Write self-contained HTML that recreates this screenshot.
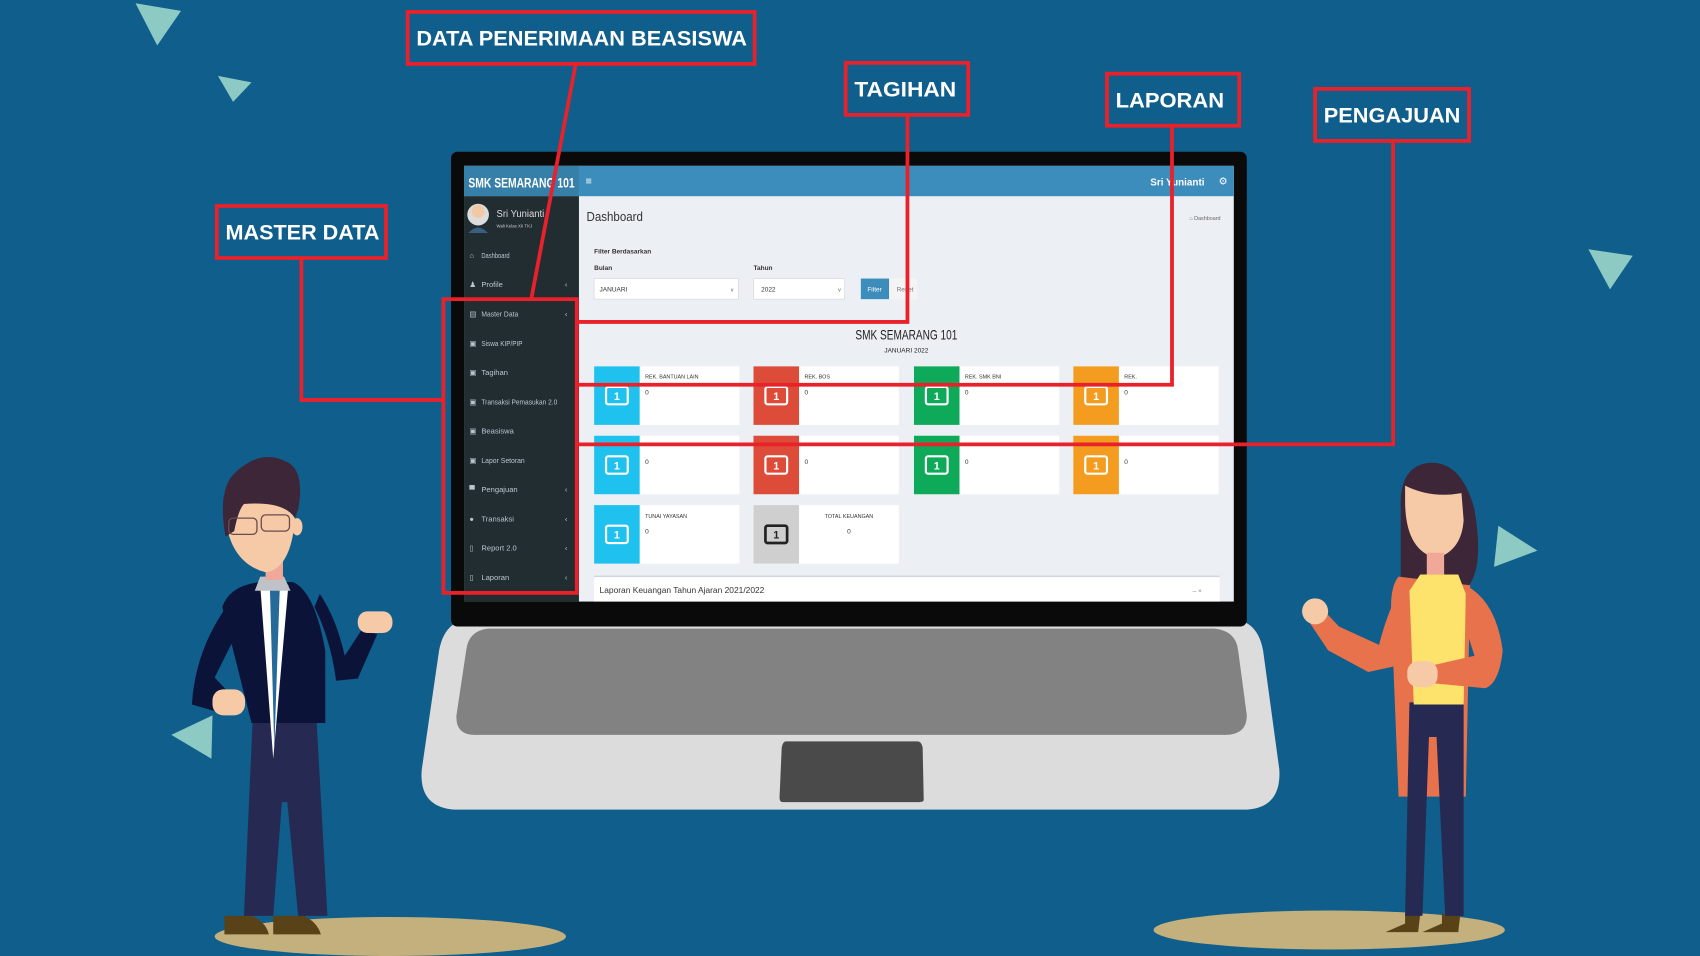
<!DOCTYPE html>
<html><head><meta charset="utf-8"><style>
html,body{margin:0;padding:0;background:#0f5e8b;}
svg{display:block;}
text{font-family:"Liberation Sans",sans-serif;}
</style></head><body>
<svg width="1700" height="956" viewBox="0 0 1568 882" preserveAspectRatio="none" xmlns="http://www.w3.org/2000/svg">
<rect width="1568" height="882" fill="#0f5e8b"/>
<g fill="#8ecac4">
<polygon points="125,3 167,10 145,42"/>
<polygon points="201,70 232,76 215,94"/>
<polygon points="1465,230 1506,236 1485,267"/>
<polygon points="1382,485 1418,508 1378,523"/>
<polygon points="158,678 196,660 195,700"/>
</g>
<ellipse cx="360" cy="864" rx="162" ry="18" fill="#c4b07c"/>
<ellipse cx="1226" cy="858" rx="162" ry="18" fill="#c4b07c"/>

<path d="M430,572 L1140,572 Q1160,574 1165,600 L1180,710 Q1182,745 1150,747 L420,747 Q386,745 389,710 L405,600 Q410,574 430,572 Z" fill="#dcdcdc"/>
<path d="M450,580 L1120,580 Q1140,582 1142,600 L1150,660 Q1150,678 1130,678 L438,678 Q420,678 421,660 L430,600 Q432,582 450,580 Z" fill="#828282"/>
<path d="M725,684 L846,684 Q850,684 851,690 L852,738 Q852,740 848,740 L722,740 Q719,740 719,736 L721,690 Q722,684 725,684 Z" fill="#4a4a4a"/>
<rect x="416" y="140" width="734" height="438" rx="6" fill="#0a0a0a"/>
<rect x="428" y="153" width="710" height="402" fill="#ecf0f5"/>
<rect x="428" y="153" width="710" height="28" fill="#3c8dbc"/>
<rect x="428" y="153" width="106" height="28" fill="#367fa9"/>
<text x="432" y="173" font-size="13" font-weight="bold" fill="#fff" textLength="98" lengthAdjust="spacingAndGlyphs">SMK SEMARANG 101</text>
<text x="540" y="170" font-size="10" fill="#fff">≡</text>
<text x="1061" y="171" font-size="9" font-weight="bold" fill="#fff" textLength="50" lengthAdjust="spacingAndGlyphs">Sri Yunianti</text>
<text x="1124" y="170" font-size="9" fill="#fff">⚙</text>
<rect x="428" y="181" width="106" height="374" fill="#222d32"/>
<circle cx="441" cy="198" r="10" fill="#dcdcdc"/>
<path d="M432,215 Q441,205 450,215 Z" fill="#3a5f85"/>
<circle cx="441" cy="195" r="6" fill="#f3c9a5"/>
<text x="458" y="200" font-size="9" fill="#ddd" textLength="44" lengthAdjust="spacingAndGlyphs">Sri Yunianti</text>
<text x="458" y="210" font-size="4" fill="#ccc">Wali Kelas XII TKJ</text>
<g font-size="7" fill="#b8c7ce">
<text x="433" y="238">⌂</text><text x="444" y="238" textLength="26" lengthAdjust="spacingAndGlyphs">Dashboard</text>
<text x="433" y="265">♟</text><text x="444" y="265">Profile</text><text x="521" y="265">‹</text>
<text x="433" y="292">▤</text><text x="444" y="292" textLength="34" lengthAdjust="spacingAndGlyphs">Master Data</text><text x="521" y="292">‹</text>
<text x="433" y="319">▣</text><text x="444" y="319" textLength="38" lengthAdjust="spacingAndGlyphs">Siswa KIP/PIP</text>
<text x="433" y="346">▣</text><text x="444" y="346">Tagihan</text>
<text x="433" y="373">▣</text><text x="444" y="373" textLength="70" lengthAdjust="spacingAndGlyphs">Transaksi Pemasukan 2.0</text>
<text x="433" y="400">▣</text><text x="444" y="400">Beasiswa</text>
<text x="433" y="427">▣</text><text x="444" y="427" textLength="40" lengthAdjust="spacingAndGlyphs">Lapor Setoran</text>
<text x="433" y="454">▀</text><text x="444" y="454">Pengajuan</text><text x="521" y="454">‹</text>
<text x="433" y="481">●</text><text x="444" y="481">Transaksi</text><text x="521" y="481">‹</text>
<text x="433" y="508">▯</text><text x="444" y="508">Report 2.0</text><text x="521" y="508">‹</text>
<text x="433" y="535">▯</text><text x="444" y="535">Laporan</text><text x="521" y="535">‹</text>
</g>
<text x="541" y="204" font-size="12" fill="#333" textLength="52" lengthAdjust="spacingAndGlyphs">Dashboard</text>
<text x="1097" y="203" font-size="5" fill="#666">⌂ Dashboard</text>
<text x="548" y="234" font-size="6" font-weight="bold" fill="#333">Filter Berdasarkan</text>
<text x="548" y="249" font-size="6" font-weight="bold" fill="#333">Bulan</text>
<text x="695" y="249" font-size="6" font-weight="bold" fill="#333">Tahun</text>
<rect x="548" y="257" width="133" height="19" fill="#fff" stroke="#d2d6de" stroke-width="0.6"/>
<text x="553" y="269" font-size="6" fill="#333">JANUARI</text><text x="674" y="269" font-size="5" fill="#555">v</text>
<rect x="695" y="257" width="84" height="19" fill="#fff" stroke="#d2d6de" stroke-width="0.6"/>
<text x="702" y="269" font-size="6" fill="#333">2022</text><text x="773" y="269" font-size="5" fill="#555">v</text>
<rect x="794" y="257" width="26" height="19" fill="#3c8dbc"/>
<text x="800" y="269" font-size="6" fill="#fff">Filter</text>
<rect x="821" y="257" width="25" height="19" fill="#f4f4f4"/>
<text x="827" y="269" font-size="6" fill="#777">Reset</text>
<text x="836" y="313" font-size="13" fill="#222" text-anchor="middle" textLength="94" lengthAdjust="spacingAndGlyphs">SMK SEMARANG 101</text>
<text x="836" y="325" font-size="6" fill="#222" text-anchor="middle">JANUARI 2022</text>
<g font-size="6" fill="#333">
<rect x="548" y="338" width="134" height="54" fill="#fff"/><rect x="548" y="338" width="42" height="54" fill="#1fc2ef"/>
<rect x="695" y="338" width="134" height="54" fill="#fff"/><rect x="695" y="338" width="42" height="54" fill="#dd4b39"/>
<rect x="843" y="338" width="134" height="54" fill="#fff"/><rect x="843" y="338" width="42" height="54" fill="#0fa95a"/>
<rect x="990" y="338" width="134" height="54" fill="#fff"/><rect x="990" y="338" width="42" height="54" fill="#f39c1f"/>
<rect x="548" y="402" width="134" height="54" fill="#fff"/><rect x="548" y="402" width="42" height="54" fill="#1fc2ef"/>
<rect x="695" y="402" width="134" height="54" fill="#fff"/><rect x="695" y="402" width="42" height="54" fill="#dd4b39"/>
<rect x="843" y="402" width="134" height="54" fill="#fff"/><rect x="843" y="402" width="42" height="54" fill="#0fa95a"/>
<rect x="990" y="402" width="134" height="54" fill="#fff"/><rect x="990" y="402" width="42" height="54" fill="#f39c1f"/>
<rect x="548" y="466" width="134" height="54" fill="#fff"/><rect x="548" y="466" width="42" height="54" fill="#1fc2ef"/>
<rect x="695" y="466" width="134" height="54" fill="#fff"/><rect x="695" y="466" width="42" height="54" fill="#cfcfcf"/>
<text x="595" y="349" font-size="5">REK. BANTUAN LAIN</text><text x="595" y="364">0</text>
<text x="742" y="349" font-size="5">REK. BOS</text><text x="742" y="364">0</text>
<text x="890" y="349" font-size="5">REK. SMK BNI</text><text x="890" y="364">0</text>
<text x="1037" y="349" font-size="5">REK.</text><text x="1037" y="364">0</text>
<text x="595" y="428">0</text><text x="742" y="428">0</text><text x="890" y="428">0</text><text x="1037" y="428">0</text>
<text x="595" y="478" font-size="5">TUNAI YAYASAN</text><text x="595" y="492">0</text>
<text x="783" y="478" font-size="5" text-anchor="middle">TOTAL KEUANGAN</text><text x="783" y="492" text-anchor="middle">0</text>
</g>
<g fill="none" stroke="#fff" stroke-width="2">
<rect x="559" y="357" width="20" height="16" rx="2"/><rect x="706" y="357" width="20" height="16" rx="2"/><rect x="854" y="357" width="20" height="16" rx="2"/><rect x="1001" y="357" width="20" height="16" rx="2"/>
<rect x="559" y="421" width="20" height="16" rx="2"/><rect x="706" y="421" width="20" height="16" rx="2"/><rect x="854" y="421" width="20" height="16" rx="2"/><rect x="1001" y="421" width="20" height="16" rx="2"/>
<rect x="559" y="485" width="20" height="16" rx="2"/>
</g>
<rect x="706" y="485" width="20" height="16" rx="2" fill="none" stroke="#222" stroke-width="2.5"/>
<g fill="#fff" font-size="10" font-weight="bold" text-anchor="middle">
<text x="569" y="369">1</text><text x="716" y="369">1</text><text x="864" y="369">1</text><text x="1011" y="369">1</text>
<text x="569" y="433">1</text><text x="716" y="433">1</text><text x="864" y="433">1</text><text x="1011" y="433">1</text>
<text x="569" y="497">1</text><text x="716" y="497" fill="#222">1</text>
</g>
<rect x="548" y="532" width="577" height="23" fill="#fff"/>
<rect x="548" y="531" width="577" height="1.5" fill="#d2d6de"/>
<text x="553" y="547" font-size="8" fill="#333" textLength="152" lengthAdjust="spacingAndGlyphs">Laporan Keuangan Tahun Ajaran 2021/2022</text>
<text x="1100" y="547" font-size="6" fill="#888">–  ×</text>

<!-- man -->
<g>
<path d="M207,862 L207,845 L232,845 Q245,850 248,862 Z" fill="#5a4218"/>
<path d="M252,862 L252,845 L280,845 Q292,850 296,862 Z" fill="#5a4218"/>
<path d="M233,665 L292,665 L302,845 L275,845 L265,740 L260,740 L252,845 L225,845 Z" fill="#262a53"/>
<path d="M205,560 Q212,540 240,537 L270,537 Q290,545 300,600 L300,667 L232,667 Z" fill="#0c1339"/>
<path d="M240,540 L266,540 L252,700 Z" fill="#fff"/>
<path d="M249,544 L258,544 L253,690 Z" fill="#256a98"/>
<path d="M240,532 L262,532 L268,545 L235,545 Z" fill="#bfc3c8"/>
<path d="M210,558 Q180,600 177,650 L205,658 L212,640 L198,625 L218,585 Z" fill="#0c1339"/>
<path d="M290,560 Q305,590 310,628 L330,626 L348,585 L333,582 L318,605 Q310,570 295,548 Z" fill="#0c1339"/>
<rect x="196" y="636" width="30" height="24" rx="10" fill="#f6c9a7"/>
<rect x="330" y="564" width="32" height="20" rx="9" fill="#f6c9a7"/>
<rect x="245" y="505" width="16" height="30" fill="#f0a898"/>
<path d="M207,462 Q207,518 245,528 Q268,525 272,480 L272,455 L207,455 Z" fill="#f6c9a7"/>
<ellipse cx="274" cy="486" rx="5" ry="8" fill="#f6c9a7"/>
<path d="M208,495 Q200,450 218,435 Q240,415 262,425 Q282,432 275,470 L272,478 Q262,462 225,465 Q220,470 216,490 Z" fill="#3c2638"/>
<g fill="none" stroke="#6b4c4c" stroke-width="1.2"><rect x="211" y="478" width="26" height="15" rx="4"/><rect x="241" y="475" width="26" height="15" rx="4"/></g>
</g>
<!-- woman -->
<g>
<path d="M1350,545 Q1370,530 1360,470 Q1348,425 1318,427 Q1290,430 1292,470 L1292,540 Z" fill="#3c2638"/>
<path d="M1296,843 L1296,852 L1278,860 L1308,860 L1310,843 Z" fill="#5a4218"/>
<path d="M1330,843 L1330,852 L1312,860 L1345,860 L1347,843 Z" fill="#5a4218"/>
<path d="M1290,532 Q1283,540 1283,560 L1290,735 L1352,735 L1356,540 Z" fill="#e8724c"/>
<path d="M1300,648 L1350,648 L1350,845 L1333,845 L1325,680 L1318,680 L1312,845 L1296,845 Z" fill="#262a53"/>
<path d="M1296,462 Q1296,508 1325,515 Q1348,508 1350,480 L1348,455 Q1320,460 1296,448 Z" fill="#f6c9a7"/>
<rect x="1316" y="510" width="16" height="20" fill="#f0a898"/>
<path d="M1300,545 L1310,530 L1345,530 L1352,548 L1350,650 L1304,650 Z" fill="#fde26b"/>
<path d="M1290,545 Q1278,570 1272,595 L1235,578 L1218,560 L1205,570 L1225,600 L1262,620 L1285,615 L1298,575 Z" fill="#e8724c"/>
<circle cx="1213" cy="564" r="12" fill="#f6c9a7"/>
<path d="M1352,540 Q1380,555 1386,600 Q1383,630 1370,635 L1318,630 L1316,615 L1360,605 L1352,580 Z" fill="#e8724c"/>
<rect x="1298" y="610" width="28" height="24" rx="10" fill="#f6c9a7"/>
</g>

<g fill="none" stroke="#e8212a" stroke-width="3.5">
<line x1="531" y1="59" x2="490" y2="276"/>
<rect x="409" y="276" width="123" height="271"/>
<polyline points="278,238 278,369 409,369"/>
<polyline points="837,106 837,297 532,297"/>
<polyline points="1081,116 1081,355 532,355"/>
<polyline points="1285,130 1285,410 532,410"/>
</g>
<g fill="#0f5e8b" stroke="#e8212a" stroke-width="3.5">
<rect x="376" y="11" width="320" height="48"/>
<rect x="780" y="58" width="113" height="48"/>
<rect x="1021" y="68" width="122" height="48"/>
<rect x="1213" y="82" width="142" height="48"/>
<rect x="200" y="190" width="156" height="48"/>
</g>
<g fill="#fff" font-weight="bold" font-size="20">
<text x="384" y="42" textLength="305" lengthAdjust="spacingAndGlyphs">DATA PENERIMAAN BEASISWA</text>
<text x="788" y="89" textLength="94" lengthAdjust="spacingAndGlyphs">TAGIHAN</text>
<text x="1029" y="99" textLength="100" lengthAdjust="spacingAndGlyphs">LAPORAN</text>
<text x="1221" y="113" textLength="126" lengthAdjust="spacingAndGlyphs">PENGAJUAN</text>
<text x="208" y="221" textLength="142" lengthAdjust="spacingAndGlyphs">MASTER DATA</text>
</g>
</svg>
</body></html>
